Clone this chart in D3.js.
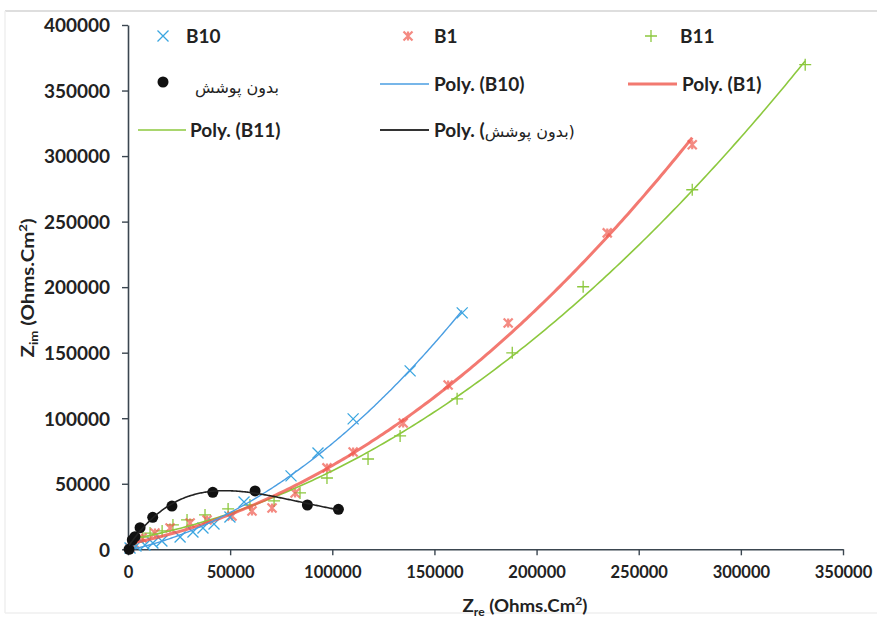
<!DOCTYPE html>
<html><head><meta charset="utf-8">
<script src="https://cdn.jsdelivr.net/npm/d3@7"></script>
<style>
body{margin:0;background:#fff}
text{font-family:Lato,'DejaVu Sans',sans-serif;font-weight:700;fill:#222}
</style>
</head><body>
<svg id="c" width="877" height="618"></svg>
<script>
// ---- data ----
const xTicks = [0, 50000, 100000, 150000, 200000, 250000, 300000, 350000];
const yTicks = [0, 50000, 100000, 150000, 200000, 250000, 300000, 350000, 400000];

const b10X = [1000, 3900, 8300, 12200, 16600, 25500, 31800, 36700, 42100, 49900, 56800, 79800, 93000, 110200, 138100, 163600];
const b10Y = [1000, 2500, 3300, 4800, 6300, 9400, 13200, 16300, 19300, 24700, 36100, 56000, 73500, 99500, 136100, 180400];

const b1X = [1000, 3400, 6900, 13200, 20600, 30400, 38700, 50900, 60700, 70500, 81800, 97400, 110200, 134700, 156700, 186100, 234600, 276200];
const b1Y = [1000, 4000, 8600, 12400, 16300, 20100, 22400, 25400, 29200, 31500, 43000, 62100, 74300, 96400, 125400, 172700, 241400, 308600];

const b11X = [1000, 3900, 7300, 10800, 16700, 22000, 28900, 37700, 49000, 59700, 71500, 84200, 97400, 117500, 133200, 161100, 188100, 222800, 276200, 331500];
const b11Y = [1000, 5600, 9400, 12400, 14000, 18600, 22400, 26200, 30800, 33800, 36900, 43000, 54400, 68900, 86500, 114800, 149900, 200300, 274300, 369700];

const bareX = [500, 2100, 3400, 5900, 12100, 21500, 41500, 62200, 87800, 103000];
const bareY = [0, 7100, 9600, 16500, 24400, 33000, 43500, 44500, 33800, 30500];

const seriesNames = ["B10", "B1", "B11", "بدون پوشش"];
const trendPrefix = "Poly. (";

// ---- helpers ----
function polyfit(xs, ys, deg) {
  const s = d3.max(xs), n = deg + 1;
  const A = Array.from({length: n}, () => new Array(n).fill(0));
  const b = new Array(n).fill(0);
  xs.forEach((x, k) => {
    const u = x / s;
    for (let i = 0; i < n; i++) {
      b[i] += ys[k] * Math.pow(u, i);
      for (let j = 0; j < n; j++) A[i][j] += Math.pow(u, i + j);
    }
  });
  for (let i = 0; i < n; i++) {
    let p = i;
    for (let r = i + 1; r < n; r++) if (Math.abs(A[r][i]) > Math.abs(A[p][i])) p = r;
    [A[i], A[p]] = [A[p], A[i]]; [b[i], b[p]] = [b[p], b[i]];
    for (let r = i + 1; r < n; r++) {
      const f = A[r][i] / A[i][i];
      for (let c = i; c < n; c++) A[r][c] -= f * A[i][c];
      b[r] -= f * b[i];
    }
  }
  const c = new Array(n).fill(0);
  for (let i = n - 1; i >= 0; i--) {
    let v = b[i];
    for (let j = i + 1; j < n; j++) v -= A[i][j] * c[j];
    c[i] = v / A[i][i];
  }
  return x => c.reduce((acc, ck, k) => acc + ck * Math.pow(x / s, k), 0);
}

const svg = d3.select("#c");
const x = d3.scaleLinear().domain([0, 350000]).range([128, 843]);
const y = d3.scaleLinear().domain([0, 400000]).range([549.3, 25]);

// outer frame (only faint edges visible)
svg.append("line").attr("x1", 5).attr("x2", 877).attr("y1", 11).attr("y2", 11).attr("stroke", "#dedede").attr("stroke-width", 2);
svg.append("line").attr("x1", 5).attr("x2", 5).attr("y1", 11).attr("y2", 613).attr("stroke", "#efefef").attr("stroke-width", 1.5);
svg.append("line").attr("x1", 5).attr("x2", 877).attr("y1", 613).attr("y2", 613).attr("stroke", "#efefef").attr("stroke-width", 1.5);

// axes
const axisCol = "#3b4650";
const gx = svg.append("g").attr("transform", `translate(0,${y(0)})`)
  .call(d3.axisBottom(x).tickValues(xTicks).tickFormat(d3.format("d")).tickSize(6).tickSizeOuter(0).tickPadding(11));
const gy = svg.append("g").attr("transform", `translate(${x(0)},0)`)
  .call(d3.axisLeft(y).tickValues(yTicks).tickFormat(d3.format("d")).tickSize(6).tickSizeOuter(0).tickPadding(12));
[gx, gy].forEach(g => {
  g.select(".domain").attr("stroke", axisCol).attr("stroke-width", 1.6);
  g.selectAll(".tick line").attr("stroke", axisCol).attr("stroke-width", 1.4);
  g.selectAll(".tick text").attr("fill", "#222").style("font-family", "Lato,sans-serif").style("font-weight", 700);
});
gx.selectAll(".tick text").style("font-size", "16.5px");
gy.selectAll(".tick text").style("font-size", "19px").attr("dy", "0.36em").attr("x", -18);

// axis titles
const xt = svg.append("text").attr("transform", "translate(525,612) scale(1.1,1)").attr("text-anchor", "middle")
  .style("font-size", "17px");
xt.append("tspan").text("Z");
xt.append("tspan").text("re").attr("dy", 4).style("font-size", "11px");
xt.append("tspan").text(" (Ohms.Cm").attr("dy", -4);
xt.append("tspan").text("2").attr("dy", -7).style("font-size", "11px");
xt.append("tspan").text(")").attr("dy", 7);

const yt = svg.append("text").attr("transform", "translate(34,288) rotate(-90) scale(1.2,1)").attr("text-anchor", "middle")
  .style("font-size", "17px");
yt.append("tspan").text("Z");
yt.append("tspan").text("im").attr("dy", 4).style("font-size", "11px");
yt.append("tspan").text(" (Ohms.Cm").attr("dy", -4);
yt.append("tspan").text("2").attr("dy", -7).style("font-size", "11px");
yt.append("tspan").text(")").attr("dy", 7);

// styles
const blueM = "#3aa6e0", blueL = "#4a9ee2", redC = "#f0584d", greenC = "#8cc83e", blackC = "#111";

function trend(xs, ys, deg, color, w, op) {
  const f = polyfit(xs, ys, deg);
  const lo = d3.min(xs), hi = d3.max(xs);
  const pts = d3.range(0, 201).map(i => lo + (hi - lo) * i / 200);
  svg.append("path").datum(pts)
    .attr("d", d3.line().x(d => x(d)).y(d => y(f(d))))
    .attr("fill", "none").attr("stroke", color).attr("stroke-width", w).attr("opacity", op);
}

const markX = (s) => `M${-s},${-s}L${s},${s}M${-s},${s}L${s},${-s}`;
const markPlus = (s) => `M${-s},0L${s},0M0,${-s}L0,${s}`;
const markStar = (s) => `M${-s},${-s}L${s},${s}M${-s},${s}L${s},${-s}M0,${-s}L0,${s}`;

function markers(xs, ys, d, color, w, op) {
  svg.append("g").selectAll("path").data(xs).join("path")
    .attr("transform", (v, i) => `translate(${x(v)},${y(ys[i])})`)
    .attr("d", d).attr("fill", "none").attr("stroke", color).attr("stroke-width", w).attr("opacity", op);
}

markers(b11X, b11Y, markPlus(6), greenC, 1.3, 1);
markers(b1X, b1Y, markStar(4.5), redC, 2.2, 0.7);
markers(b10X, b10Y, markX(5.5), blueM, 1.3, 1);

trend(b11X, b11Y, 2, greenC, 1.6, 1);
trend(b1X, b1Y, 2, redC, 3, 0.8);
trend(b10X, b10Y, 2, blueL, 1.4, 1);

svg.append("g").selectAll("circle").data(bareX).join("circle")
  .attr("cx", d => x(d)).attr("cy", (d, i) => y(bareY[i])).attr("r", 5.5).attr("fill", blackC);
trend(bareX, bareY, 4, "#222", 1.6, 1);

// legend
const leg = svg.append("g");
function legText(tx, ty, t, fa) {
  const el = leg.append("text").attr("x", tx).attr("y", ty).attr("dy", "0.36em").style("font-size", "19px");
  if (t) el.append("tspan").text(t);
  if (fa) {
    el.append("tspan").text(fa).style("font-size", "16px").style("font-family", "'DejaVu Sans',sans-serif").style("font-weight", 400);
  }
  return el;
}
leg.append("path").attr("transform", "translate(163,36)").attr("d", markX(5.5)).attr("stroke", blueM).attr("stroke-width", 1.3).attr("fill", "none");
legText(186, 36, seriesNames[0]);
leg.append("path").attr("transform", "translate(408,36)").attr("d", markStar(4.5)).attr("stroke", redC).attr("stroke-width", 2.2).attr("opacity", 0.7).attr("fill", "none");
legText(434, 36, seriesNames[1]);
leg.append("path").attr("transform", "translate(651,36)").attr("d", markPlus(6)).attr("stroke", greenC).attr("stroke-width", 1.3).attr("fill", "none");
legText(680, 36, seriesNames[2]);

leg.append("circle").attr("cx", 163).attr("cy", 82).attr("r", 5.5).attr("fill", blackC);
legText(195, 86, null, seriesNames[3]);
leg.append("line").attr("x1", 380).attr("x2", 429).attr("y1", 84).attr("y2", 84).attr("stroke", blueL).attr("stroke-width", 1.4);
legText(434, 84, trendPrefix + seriesNames[0] + ")");
leg.append("line").attr("x1", 628).attr("x2", 677).attr("y1", 84).attr("y2", 84).attr("stroke", redC).attr("stroke-width", 3).attr("opacity", 0.8);
legText(682, 84, trendPrefix + seriesNames[1] + ")");

leg.append("line").attr("x1", 138).attr("x2", 186).attr("y1", 130).attr("y2", 130).attr("stroke", greenC).attr("stroke-width", 1.6);
legText(190, 130, trendPrefix + seriesNames[2] + ")");
leg.append("line").attr("x1", 380).attr("x2", 429).attr("y1", 130).attr("y2", 130).attr("stroke", "#333").attr("stroke-width", 1.8);
legText(434, 130, trendPrefix, seriesNames[3] + ")");
</script>
</body></html>
